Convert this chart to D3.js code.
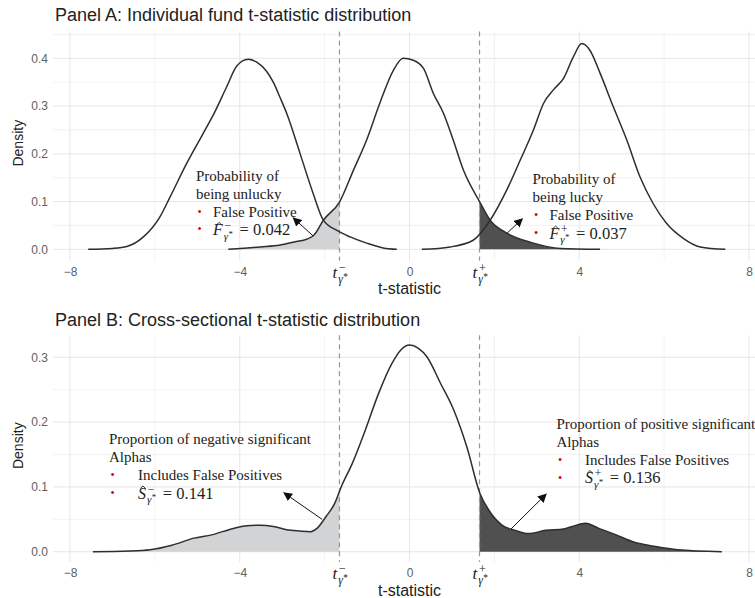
<!DOCTYPE html>
<html>
<head>
<meta charset="utf-8">
<script src="https://cdn.jsdelivr.net/npm/d3@7"></script>
<style>
  body { margin: 0; background: #fff; }
  svg { display: block; }
</style>
</head>
<body>
<svg id="chart" width="755" height="598"></svg>
<script>
// values
const xTicks = [-8, -4, 0, 4, 8];
const xGrid = [-8, -6, -4, -2, 0, 2, 4, 6, 8];
const yTicksA = [0, 0.1, 0.2, 0.3, 0.4];
const yTicksB = [0, 0.1, 0.2, 0.3];
const tCrit = [-1.65, 1.65];

// panel A: three densities (unlucky, null, lucky)
const unluckyA = [[-7.57,0],[-7.0,0.002],[-6.66,0.006],[-6.27,0.026],[-5.88,0.068],[-5.64,0.11],[-5.25,0.18],
  [-4.86,0.243],[-4.62,0.282],[-4.31,0.34],[-4.07,0.384],[-3.8,0.398],[-3.6,0.392],[-3.36,0.372],[-3.21,0.35],
  [-3.05,0.318],[-2.89,0.284],[-2.58,0.201],[-2.27,0.117],[-2.03,0.061],[-1.72,0.040],[-1.4,0.026],[-1.01,0.013],
  [-0.62,0.003],[-0.3,0]];
const nullA = [[-4.27,0],[-3.52,0.005],[-3.05,0.009],[-2.74,0.015],[-2.4,0.022],[-2.25,0.03],[-2.03,0.061],[-1.65,0.099],
  [-1.32,0.166],[-1.01,0.229],[-0.7,0.306],[-0.38,0.375],[-0.15,0.40],[0.09,0.396],[0.33,0.379],[0.56,0.327],
  [0.8,0.285],[1.03,0.229],[1.27,0.166],[1.65,0.100],[1.9,0.061],[2.29,0.034],[2.92,0.013],[3.55,0.002],[4.49,0]];
const luckyA = [[0.29,0],[0.96,0.005],[1.5,0.019],[1.9,0.061],[2.29,0.124],[2.61,0.187],[2.92,0.25],[3.16,0.306],
  [3.39,0.334],[3.63,0.358],[3.86,0.403],[4.06,0.431],[4.25,0.417],[4.49,0.369],[4.8,0.299],[5.12,0.229],
  [5.43,0.152],[5.74,0.096],[6.06,0.054],[6.45,0.023],[6.85,0.005],[7.44,0]];

// panel B: cross-sectional density
const crossB = [[-7.46,0],[-6.6,0.001],[-6.11,0.003],[-5.6,0.010],[-5.08,0.021],[-4.66,0.026],[-4.15,0.036],
  [-3.83,0.040],[-3.52,0.041],[-3.21,0.039],[-2.9,0.034],[-2.59,0.032],[-2.33,0.031],[-2.18,0.036],[-1.97,0.054],
  [-1.76,0.075],[-1.61,0.100],[-1.35,0.136],[-1.04,0.188],[-0.73,0.244],[-0.41,0.291],[-0.21,0.311],[0,0.319],
  [0.21,0.314],[0.41,0.301],[0.73,0.260],[1.04,0.219],[1.35,0.162],[1.66,0.090],[1.87,0.064],[2.18,0.041],
  [2.49,0.033],[2.8,0.028],[3.21,0.033],[3.63,0.035],[3.83,0.039],[4.15,0.044],[4.46,0.036],[4.87,0.026],
  [5.28,0.015],[5.8,0.008],[6.32,0.003],[7.36,0]];

// annotation texts and estimates
const noteUnlucky = ["Probability of", "being unlucky"];
const noteLucky = ["Probability of", "being lucky"];
const noteNeg = ["Proportion of negative significant", "Alphas"];
const notePos = ["Proportion of positive significant", "Alphas"];
const bulletA = "False Positive";
const bulletB = "Includes False Positives";
const estA = ["0.042", "0.037"];
const estB = ["0.141", "0.136"];

const SANS = "'Liberation Sans', Arial, Helvetica, sans-serif";
const SERIF = "'Liberation Serif', 'Times New Roman', serif";

const svg = d3.select("#chart");

svg.append("defs").append("marker")
    .attr("id", "arrow")
    .attr("viewBox", "0 0 10 10")
    .attr("refX", 9).attr("refY", 5)
    .attr("markerWidth", 9).attr("markerHeight", 9)
    .attr("markerUnits", "userSpaceOnUse")
    .attr("orient", "auto")
  .append("path")
    .attr("d", "M0,0 L10,5 L0,10 z")
    .attr("fill", "#111");

const x = d3.scaleLinear().domain([-8.4, 8.4]).range([53, 766]);

// letter with sub gamma* and super sign, e.g. F^-_{γ*}; optional hat
function mathTerm(g, x0, y0, base, sign, size, hat) {
    const b = g.append("text").attr("x", x0).attr("y", y0)
        .attr("font-family", SERIF).attr("font-style", "italic")
        .attr("font-size", size).attr("fill", "#222").text(base);
    const bw = b.node().getComputedTextLength();
    if (hat) {
        const hx = x0 + bw * 0.62, hy = y0 - size * 0.74;
        g.append("path")
            .attr("d", `M${hx - 2.6},${hy + 1.8} L${hx},${hy - 0.6} L${hx + 2.6},${hy + 1.8}`)
            .attr("fill", "none").attr("stroke", "#222").attr("stroke-width", 0.9);
    }
    const sx = x0 + bw + 1;
    g.append("text").attr("x", sx + 0.8).attr("y", y0 - size * 0.36)
        .attr("font-family", SERIF).attr("font-size", size * 0.72)
        .attr("fill", "#222").text(sign);
    const sub = g.append("text").attr("x", sx).attr("y", y0 + size * 0.3)
        .attr("font-family", SERIF).attr("font-style", "italic")
        .attr("font-size", size * 0.7).attr("fill", "#222").text("γ");
    const gw = sub.node().getComputedTextLength();
    const st = g.append("text").attr("x", sx + gw + 0.3).attr("y", y0 + size * 0.1)
        .attr("font-family", SERIF).attr("font-size", size * 0.55)
        .attr("fill", "#222").text("*");
    return sx + gw + st.node().getComputedTextLength() + 1 - x0;
}

function note(g, o) {
    o.lines.forEach((t, i) => {
        g.append("text").attr("x", o.x).attr("y", o.y + i * o.lh)
            .attr("font-family", SERIF).attr("font-size", 15)
            .attr("fill", "#222").text(t);
    });
    [2, 3].forEach(i => {
        g.append("text").attr("x", o.x + 1.5).attr("y", o.y + i * o.lh - 1)
            .attr("font-family", SERIF).attr("font-size", 12)
            .attr("fill", "#d40000").text("•");
    });
    g.append("text").attr("x", o.x + o.indent).attr("y", o.y + 2 * o.lh)
        .attr("font-family", SERIF).attr("font-size", 15)
        .attr("fill", "#222").text(o.bullet);
    const w = mathTerm(g, o.x + o.indent, o.y + 3 * o.lh + 0.5, o.base, o.sign, 16, true);
    g.append("text").attr("x", o.x + o.indent + w + 6).attr("y", o.y + 3 * o.lh + 0.5)
        .attr("font-family", SERIF).attr("font-size", 16.5)
        .attr("fill", "#222").text("= " + o.value);
}

function drawPanel(cfg) {
    const g = svg.append("g");
    const y = d3.scaleLinear().domain(cfg.yDomain).range([cfg.bottom, cfg.top]);
    const left = x.range()[0], right = x.range()[1];

    // grid: minor then major
    const yMinor = d3.range(0.05, cfg.yDomain[1], 0.1);
    g.append("g").selectAll("line").data(yMinor).join("line")
        .attr("x1", left).attr("x2", right)
        .attr("y1", d => y(d)).attr("y2", d => y(d))
        .attr("stroke", "#efefef").attr("stroke-width", 0.8);
    g.append("g").selectAll("line").data(xGrid.filter(d => !xTicks.includes(d))).join("line")
        .attr("x1", d => x(d)).attr("x2", d => x(d))
        .attr("y1", cfg.top).attr("y2", cfg.bottom)
        .attr("stroke", "#efefef").attr("stroke-width", 0.8);
    g.append("g").selectAll("line").data(cfg.yTicks).join("line")
        .attr("x1", left).attr("x2", right)
        .attr("y1", d => y(d)).attr("y2", d => y(d))
        .attr("stroke", "#e6e6e6").attr("stroke-width", 1);
    g.append("g").selectAll("line").data(xTicks).join("line")
        .attr("x1", d => x(d)).attr("x2", d => x(d))
        .attr("y1", cfg.top).attr("y2", cfg.bottom)
        .attr("stroke", "#e6e6e6").attr("stroke-width", 1);

    // axes (text only)
    const ax = g.append("g").attr("transform", `translate(0,${cfg.bottom})`)
        .call(d3.axisBottom(x).tickValues(xTicks).tickSize(0).tickPadding(6.5));
    const ay = g.append("g").attr("transform", `translate(${left},0)`)
        .call(d3.axisLeft(y).tickValues(cfg.yTicks).tickFormat(d3.format(".1f")).tickSize(0).tickPadding(5));
    [ax, ay].forEach(a => {
        a.select(".domain").remove();
        a.selectAll("text").attr("font-family", SANS).attr("font-size", 12).attr("fill", "#606060");
    });

    // shaded tails, clipped at the critical values
    const area = d3.area().x(d => x(d[0])).y0(y(0)).y1(d => y(d[1])).curve(d3.curveMonotoneX);
    const defs = svg.select("defs");
    defs.append("clipPath").attr("id", cfg.id + "-lo").append("rect")
        .attr("x", left).attr("y", cfg.top).attr("width", x(tCrit[0]) - left).attr("height", cfg.bottom - cfg.top);
    defs.append("clipPath").attr("id", cfg.id + "-hi").append("rect")
        .attr("x", x(tCrit[1])).attr("y", cfg.top).attr("width", right - x(tCrit[1])).attr("height", cfg.bottom - cfg.top);
    g.append("path").datum(cfg.shade).attr("d", area)
        .attr("fill", "#d2d3d5").attr("clip-path", `url(#${cfg.id}-lo)`);
    g.append("path").datum(cfg.shade).attr("d", area)
        .attr("fill", "#505050").attr("clip-path", `url(#${cfg.id}-hi)`);

    // critical value lines
    g.append("g").selectAll("line").data(tCrit).join("line")
        .attr("x1", d => x(d)).attr("x2", d => x(d))
        .attr("y1", cfg.top).attr("y2", cfg.bottom)
        .attr("stroke", "#959595").attr("stroke-width", 1.2)
        .attr("stroke-dasharray", "5,4");

    // density curves
    const line = d3.line().x(d => x(d[0])).y(d => y(d[1])).curve(d3.curveMonotoneX);
    g.append("g").selectAll("path").data(cfg.curves).join("path")
        .attr("d", line).attr("fill", "none")
        .attr("stroke", "#2e2e2e").attr("stroke-width", 1.5);

    // titles
    g.append("text").attr("x", 55).attr("y", cfg.titleY)
        .attr("font-family", SANS).attr("font-size", 18).attr("fill", "#222")
        .text(cfg.title);
    g.append("text").attr("x", x(0)).attr("y", cfg.bottom + 33.5)
        .attr("text-anchor", "middle").attr("font-family", SANS)
        .attr("font-size", 16).attr("fill", "#222").text("t-statistic");
    g.append("text")
        .attr("transform", `translate(23,${(cfg.top + cfg.bottom) / 2 - 3}) rotate(-90)`)
        .attr("text-anchor", "middle").attr("font-family", SANS)
        .attr("font-size", 14).attr("fill", "#222").text("Density");

    // t_{γ*} labels under the critical lines
    tCrit.forEach((t, i) => {
        mathTerm(g, x(t) - 7, cfg.bottom + 17, "t", i ? "+" : "−", 17, false);
    });

    // annotations with arrows
    cfg.notes.forEach(o => note(g, o));
    g.append("g").selectAll("line").data(cfg.arrows).join("line")
        .attr("x1", d => x(d[0][0])).attr("y1", d => y(d[0][1]))
        .attr("x2", d => x(d[1][0])).attr("y2", d => y(d[1][1]))
        .attr("stroke", "#111").attr("stroke-width", 1)
        .attr("marker-end", "url(#arrow)");
}

drawPanel({
    id: "pa", title: "Panel A: Individual fund t-statistic distribution", titleY: 21,
    top: 31.6, bottom: 260.8, yDomain: [-0.024, 0.456], yTicks: yTicksA,
    curves: [unluckyA, nullA, luckyA], shade: nullA,
    arrows: [[[-2.27, 0.028], [-2.74, 0.066]], [[2.3, 0.034], [2.66, 0.064]]],
    notes: [
        {x: 196, y: 181, lh: 17.8, lines: noteUnlucky, bullet: bulletA, indent: 17, base: "F", sign: "−", value: estA[0]},
        {x: 532.5, y: 184, lh: 18, lines: noteLucky, bullet: bulletA, indent: 17, base: "F", sign: "+", value: estA[1]}
    ]
});

drawPanel({
    id: "pb", title: "Panel B: Cross-sectional t-statistic distribution", titleY: 326,
    top: 335.3, bottom: 562.1, yDomain: [-0.016, 0.334], yTicks: yTicksB,
    curves: [crossB], shade: crossB,
    arrows: [[[-2.06, 0.050], [-2.96, 0.091]], [[2.39, 0.035], [3.22, 0.089]]],
    notes: [
        {x: 109, y: 444, lh: 18, lines: noteNeg, bullet: bulletB, indent: 29, base: "S", sign: "−", value: estB[0]},
        {x: 556.5, y: 428.5, lh: 18, lines: notePos, bullet: bulletB, indent: 28.5, base: "S", sign: "+", value: estB[1]}
    ]
});
</script>
</body>
</html>
